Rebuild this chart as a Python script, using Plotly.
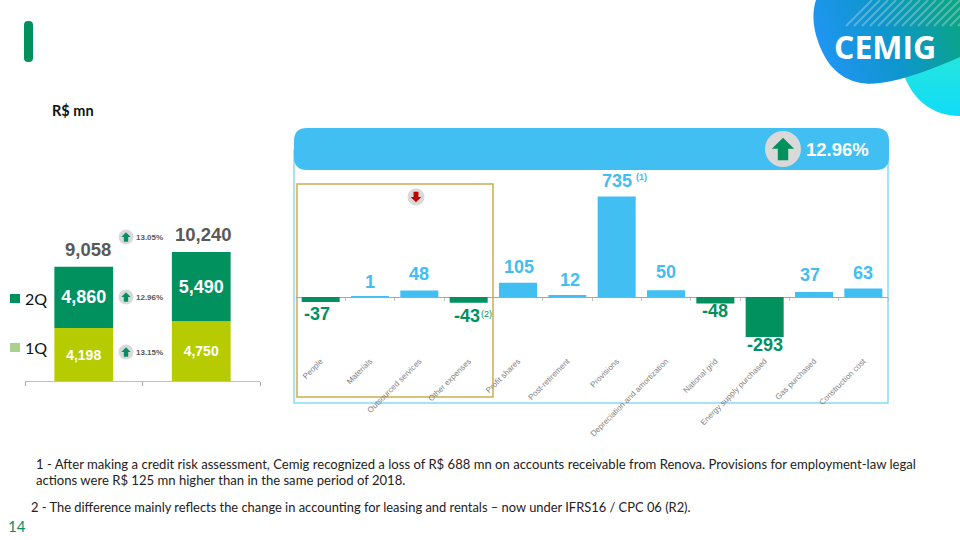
import base64
import plotly.graph_objects as go

# ---------- data ----------
periods = ["1H 2018", "1H 2019"]
q1_values = [4198, 4750]
q2_values = [4860, 5490]
period_totals = [9058, 10240]
growth_labels = ["13.05%", "12.96%", "13.15%"]
total_growth = "12.96%"

expense_items = ["People", "Materials", "Outsourced services", "Other expenses", "Profit shares",
                 "Post-retirement", "Provisions", "Depreciation and amortization", "National grid",
                 "Energy supply purchased", "Gas purchased", "Construction cost"]
expense_changes = [-37, 1, 48, -43, 105, 12, 735, 50, -48, -293, 37, 63]

footnote_1a = "1 - After making a credit risk assessment, Cemig recognized a loss of R$ 688 mn on accounts receivable from Renova. Provisions for employment-law legal"
footnote_1b = "actions were R$ 125 mn higher than in the same period of 2018."
footnote_2 = "2 - The difference mainly reflects the change in accounting for leasing and rentals \u2013 now under IFRS16 / CPC 06 (R2)."

# ---------- style ----------
GREEN = "#00915F"
LIME = "#B7CC00"
SKY = "#41BEF2"
GRAY_TXT = "#595959"
BADGE = "#D9D9D9"
ARIAL = "Liberation Sans"
LATO = "Lato"
label_yshift = [-12, 15, 16, -13, 16, 15, 16, 18, -7.5, -8, 17, 15]
label_xshift = [-4, 0, 0, -2, 1, 3, 0, 0, 0, 0, -4, 0]
total_xshift = [4, 2]


def X(p):
    return p / 960


def Y(p):
    return 1 - p / 540


def path(points):
    return "M " + " L ".join(f"{X(a):.5f},{Y(b):.5f}" for a, b in points) + " Z"


def rrect(x0, y0, x1, y1, r):
    return (f"M {X(x0+r):.5f},{Y(y0):.5f} L {X(x1-r):.5f},{Y(y0):.5f} "
            f"Q {X(x1):.5f},{Y(y0):.5f} {X(x1):.5f},{Y(y0+r):.5f} L {X(x1):.5f},{Y(y1-r):.5f} "
            f"Q {X(x1):.5f},{Y(y1):.5f} {X(x1-r):.5f},{Y(y1):.5f} L {X(x0+r):.5f},{Y(y1):.5f} "
            f"Q {X(x0):.5f},{Y(y1):.5f} {X(x0):.5f},{Y(y1-r):.5f} L {X(x0):.5f},{Y(y0+r):.5f} "
            f"Q {X(x0):.5f},{Y(y0):.5f} {X(x0+r):.5f},{Y(y0):.5f} Z")


shapes = []
annots = []


def pshape(d, fill, line=None, width=0, layer="above"):
    shapes.append(dict(type="path", path=d, xref="paper", yref="paper", fillcolor=fill, layer=layer,
                       line=dict(color=line or fill, width=width)))


def text(x, y, s, size, color, bold=False, font=ARIAL, anchor="left"):
    annots.append(dict(x=X(x), y=Y(y), xref="paper", yref="paper", text=f"<b>{s}</b>" if bold else s,
                       showarrow=False, xanchor=anchor, yanchor="middle", borderpad=0, borderwidth=0,
                       font=dict(family=font, size=size, color=color)))


def badge(cx, cy, r, color, up=True):
    shapes.append(dict(type="circle", xref="paper", yref="paper", x0=X(cx - r), x1=X(cx + r),
                       y0=Y(cy + r), y1=Y(cy - r), fillcolor=BADGE, line=dict(width=0), layer="above"))
    s = 1 if up else -1
    h = r * 0.62
    w = r * 0.62
    st = r * 0.29
    pts = [(cx, cy - s * h), (cx + w, cy - s * h * 0.02), (cx + st, cy - s * h * 0.02), (cx + st, cy + s * h),
           (cx - st, cy + s * h), (cx - st, cy - s * h * 0.02), (cx - w, cy - s * h * 0.02)]
    pshape(path(pts), color)


# ---------- left stacked bars ----------
fig = go.Figure()
fig.add_bar(x=periods, y=q1_values, xaxis="x2", yaxis="y2", marker=dict(color=LIME, line=dict(width=0)),
            texttemplate="<b>%{y:,}</b>", textposition="inside", insidetextanchor="middle", textangle=0,
            textfont=dict(family=ARIAL, size=14, color="white"), name="1Q", showlegend=False)
fig.add_bar(x=periods, y=q2_values, xaxis="x2", yaxis="y2", marker=dict(color=GREEN, line=dict(width=0)),
            texttemplate="<b>%{y:,}</b>", textposition="inside", insidetextanchor="middle", textangle=0,
            textfont=dict(family=ARIAL, size=18, color="white"), name="2Q", showlegend=False)

for p, t, sh in zip(periods, period_totals, total_xshift):
    annots.append(dict(x=p, y=t, xref="x2", yref="y2", text=f"<b>{t:,}</b>", showarrow=False, yanchor="middle",
                       yshift=17, xshift=sh, font=dict(family=ARIAL, size=18.5, color=GRAY_TXT)))

# ---------- right bars ----------
fig.add_bar(x=expense_items, y=expense_changes, xaxis="x", yaxis="y",
            marker=dict(color=[SKY if v > 0 else GREEN for v in expense_changes], line=dict(width=0)),
            showlegend=False, name="Change")
# carries the tick marks that sit on the zero line
fig.add_scatter(x=[0], y=[0], xaxis="x3", yaxis="y", mode="none", showlegend=False, hoverinfo="skip")
for item, v, ys, xs in zip(expense_items, expense_changes, label_yshift, label_xshift):
    annots.append(dict(x=item, y=v, xref="x", yref="y", text=f"<b>{v}</b>", showarrow=False, yanchor="middle",
                       yshift=ys, xshift=xs, font=dict(family=ARIAL, size=18, color=SKY if v > 0 else GREEN)))

# ---------- decoration ----------
pshape(rrect(24, 21, 33, 62, 4), GREEN)
shapes.append(dict(type="rect", xref="paper", yref="paper", x0=X(294), x1=X(888), y0=Y(403), y1=Y(150),
                   line=dict(color="#86DAF6", width=1.5), layer="below"))
pshape(rrect(294, 128, 889, 170, 13), SKY)
shapes.append(dict(type="rect", xref="paper", yref="paper", x0=X(297), x1=X(493), y0=Y(397), y1=Y(184),
                   line=dict(color="#CDAD52", width=1.5), layer="below"))
badge(783, 149, 18, GREEN)
badge(416, 197, 8.5, "#C00000", up=False)
for cy, lab in zip([237, 297, 352], growth_labels):
    badge(126, cy, 7.5, GREEN)
    text(136, cy, lab, 8, GRAY_TXT, bold=True)

text(806, 149, total_growth, 18.5, "white", bold=True)
text(636, 177, "(1)", 9, SKY, bold=True)
text(481, 314, "(2)", 9, GREEN)

shapes.append(dict(type="rect", xref="paper", yref="paper", x0=X(10), x1=X(20), y0=Y(303), y1=Y(294),
                   fillcolor=GREEN, line=dict(width=0)))
shapes.append(dict(type="rect", xref="paper", yref="paper", x0=X(10), x1=X(20), y0=Y(352), y1=Y(343),
                   fillcolor="#A9D18E", line=dict(width=0)))
text(25, 298.5, "2Q", 16, "#111111", font=LATO)
text(25, 347.5, "1Q", 16, "#111111", font=LATO)
text(52, 110, "R$ mn", 14.5, "#111111", bold=True, font=LATO)
text(36, 464, footnote_1a, 13.1, "#222222", font=LATO)
text(36, 480, footnote_1b, 13.1, "#222222", font=LATO)
text(31, 507, footnote_2, 12.9, "#222222", font=LATO)
text(8, 526, "14", 15, GREEN, font=LATO)
text(885, 47, "CEMIG", 32, "white", bold=True, font="Open Sans", anchor="center")

# logo backdrop with gradient
stripes = "".join(f'<line x1="{x}" y1="26" x2="{x+26}" y2="0"/>' for x in range(846, 960, 8))
svg = f'''<svg xmlns="http://www.w3.org/2000/svg" width="148" height="118" viewBox="812 0 148 118">
<defs><linearGradient id="a" gradientUnits="userSpaceOnUse" x1="825" y1="70" x2="955" y2="15">
<stop offset="0" stop-color="#2195F5"/><stop offset="0.5" stop-color="#0E96CC"/><stop offset="1" stop-color="#0AA487"/></linearGradient>
<linearGradient id="b" x1="0" y1="0" x2="0" y2="1"><stop offset="0" stop-color="#2CE8D8"/><stop offset="1" stop-color="#10DCF8"/></linearGradient>
<clipPath id="c"><path d="M816 0C811 15 813 35 825 57C838 80 860 86 880 83C905 80 935 68 960 57L960 0Z"/></clipPath></defs>
<path fill="url(#b)" d="M900 60C905 90 925 116 960 116L960 40Z"/>
<path fill="url(#a)" d="M816 0C811 15 813 35 825 57C838 80 860 86 880 83C905 80 935 68 960 57L960 0Z"/>
<g clip-path="url(#c)" stroke="#FFFFFF" stroke-opacity="0.28" stroke-width="2">{stripes}</g></svg>'''
logo_src = "data:image/svg+xml;base64," + base64.b64encode(svg.encode()).decode()

# ---------- layout ----------
scale_r = 0.1366
scale_l = 0.0126
fig.update_layout(
    width=960, height=540, autosize=False, margin=dict(l=0, r=0, t=0, b=0),
    paper_bgcolor="white", plot_bgcolor="rgba(0,0,0,0)", barmode="relative", bargap=0.23,
    font=dict(family=ARIAL),
    shapes=shapes, annotations=annots,
    images=[dict(source=logo_src, xref="paper", yref="paper", x=X(812), y=1, sizex=148 / 960, sizey=118 / 540,
                 xanchor="left", yanchor="top", sizing="stretch", layer="below")],
    xaxis=dict(domain=[X(296), X(888)], anchor="y", type="category", range=[-0.5, 11.5], tickangle=-45,
               showline=False, ticks="", showgrid=False, zeroline=False, automargin=False,
               tickfont=dict(family=ARIAL, size=8, color="#7F7F7F")),
    yaxis=dict(domain=[Y(354), Y(180)], anchor="x", range=[-57 / scale_r, 117 / scale_r], visible=True,
               showticklabels=False, ticks="", showgrid=False, showline=False,
               zeroline=True, zerolinecolor="#A6A6A6", zerolinewidth=1),
    xaxis3=dict(overlaying="x", anchor="free", position=Y(297), domain=[X(296), X(888)], range=[-0.5, 11.5],
                tickmode="linear", tick0=-0.5, dtick=1, ticks="outside", ticklen=3, tickcolor="#BFBFBF",
                showticklabels=False, showline=False, showgrid=False, zeroline=False),
    xaxis2=dict(domain=[X(25), X(260)], anchor="y2", type="category", range=[-0.5, 1.5], tickson="boundaries",
                ticks="outside", ticklen=4, tickcolor="#A6A6A6", showline=True, linecolor="#BFBFBF", linewidth=1,
                showticklabels=False, showgrid=False),
    yaxis2=dict(domain=[Y(381), Y(200)], anchor="x2", range=[0, 181 / scale_l], showticklabels=False, ticks="",
                showgrid=False, showline=False, zeroline=False),
)
fig.update_traces(width=0.5, selector=dict(xaxis="x2"))
fig.update_traces(width=38 / 49.33, selector=dict(type="bar", xaxis="x"))
fig.write_html("out.html", config=dict(displayModeBar=False),
               post_script="document.body.style.margin='0';document.documentElement.style.overflow='hidden';")
